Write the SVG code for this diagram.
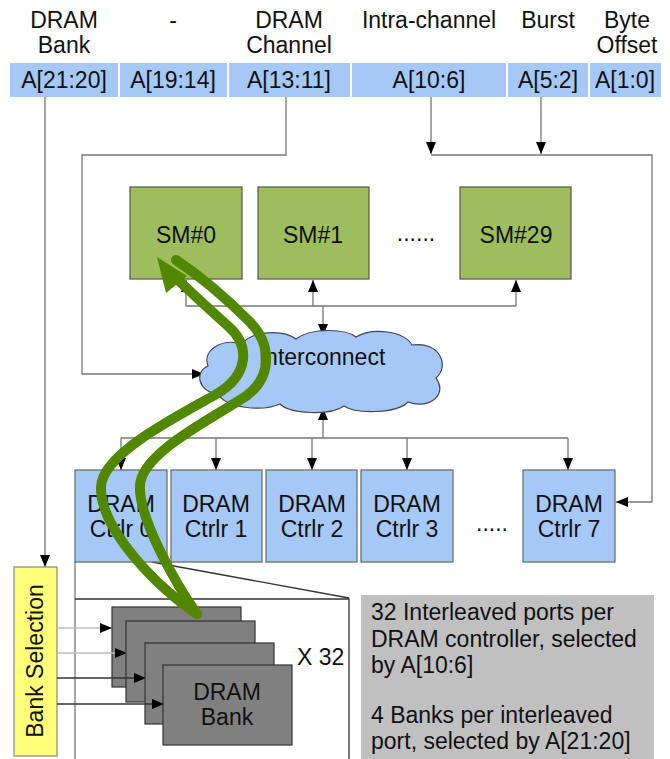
<svg xmlns="http://www.w3.org/2000/svg" width="670" height="759" viewBox="0 0 670 759">
  <style>
    text { font-family: "Liberation Sans", Arial, sans-serif; font-size: 23px; fill: #111; }
    .c { text-anchor: middle; }
    .cell { fill: #a6c8f6; }
    .wire { fill: none; stroke: #777; stroke-width: 1.3; }
    .dark { fill: none; stroke: #333; stroke-width: 1.3; }
    .sm { fill: #9dbd5f; stroke: #555; stroke-width: 1.2; }
    .ctrl { fill: #a6c8f6; stroke: #666; stroke-width: 1.2; }
    .bank { fill: #808080; stroke: #333; stroke-width: 1.2; }
    .green { fill: none; stroke: #528800; stroke-width: 10; stroke-linecap: round; stroke-linejoin: round; }
  </style>
  <defs>
    <marker id="arr" viewBox="0 0 12 10" refX="12" refY="5" markerWidth="12" markerHeight="10" markerUnits="userSpaceOnUse" orient="auto">
      <path d="M0,0 L12,5 L0,10 Z" fill="#000"/>
    </marker>
  </defs>

  <rect width="670" height="759" fill="#fff"/>

  <!-- address field labels -->
  <g id="field-labels">
    <text class="c" x="64" y="28">DRAM</text>
    <text class="c" x="64" y="53">Bank</text>
    <text class="c" x="173" y="28">-</text>
    <text class="c" x="289" y="28">DRAM</text>
    <text class="c" x="289" y="53">Channel</text>
    <text class="c" x="429" y="28">Intra-channel</text>
    <text class="c" x="548" y="28">Burst</text>
    <text class="c" x="627" y="28">Byte</text>
    <text class="c" x="627" y="53">Offset</text>
  </g>

  <!-- address bit fields -->
  <g id="address-bar">
    <rect class="cell" x="10" y="63" width="108" height="34"/>
    <rect class="cell" x="120" y="63" width="107" height="34"/>
    <rect class="cell" x="229" y="63" width="121" height="34"/>
    <rect class="cell" x="352" y="63" width="154" height="34"/>
    <rect class="cell" x="508" y="63" width="80" height="34"/>
    <rect class="cell" x="590" y="63" width="71" height="34"/>
    <text class="c" x="64" y="88">A[21:20]</text>
    <text class="c" x="173" y="88">A[19:14]</text>
    <text class="c" x="289" y="88">A[13:11]</text>
    <text class="c" x="429" y="88">A[10:6]</text>
    <text class="c" x="548" y="88">A[5:2]</text>
    <text class="c" x="625" y="88">A[1:0]</text>
  </g>

  <!-- connectors -->
  <g id="connectors">
    <path class="wire" d="M45,97 V567" marker-end="url(#arr)"/>
    <path class="wire" d="M286,97 V155 H82 V374 H204" marker-end="url(#arr)"/>
    <path class="wire" d="M431,97 V154" marker-end="url(#arr)"/>
    <path class="wire" d="M541,97 V154" marker-end="url(#arr)"/>
    <path class="wire" d="M431,155 H652 V502 H616" marker-end="url(#arr)"/>
    <!-- SM bus -->
    <path class="wire" d="M186,306 H516"/>
    <path class="wire" d="M186,306 V280" marker-end="url(#arr)"/>
    <path class="wire" d="M313,306 V280" marker-end="url(#arr)"/>
    <path class="wire" d="M516,306 V280" marker-end="url(#arr)"/>
    <path class="wire" d="M323,306 V336" marker-end="url(#arr)"/>
    <!-- controller bus -->
    <path class="wire" d="M323,438 V408" marker-end="url(#arr)"/>
    <path class="wire" d="M121,438 H568"/>
    <path class="wire" d="M121,438 V470" marker-end="url(#arr)"/>
    <path class="wire" d="M216,438 V470" marker-end="url(#arr)"/>
    <path class="wire" d="M312,438 V470" marker-end="url(#arr)"/>
    <path class="wire" d="M407,438 V470" marker-end="url(#arr)"/>
    <path class="wire" d="M568,438 V470" marker-end="url(#arr)"/>
    <!-- zoomed panel outline -->
    <path class="wire" d="M75,562 V759"/>
    <path class="dark" d="M75,599 H349 V759"/>
    <path class="dark" d="M152,562 L349,598"/>
  </g>

  <!-- streaming multiprocessors -->
  <g id="sm0">
    <rect class="sm" x="130" y="187" width="112" height="92"/>
    <text class="c" x="186" y="243">SM#0</text>
  </g>
  <g id="sm1">
    <rect class="sm" x="258" y="187" width="111" height="92"/>
    <text class="c" x="313" y="243">SM#1</text>
  </g>
  <text class="c" x="416" y="241">......</text>
  <g id="sm29">
    <rect class="sm" x="460" y="187" width="111" height="92"/>
    <text class="c" x="516" y="243">SM#29</text>
  </g>

  <!-- interconnect cloud -->
  <g id="interconnect">
    <path d="M218,394 C198,392 194,372 208,366 C202,350 222,338 242,344 C252,331 282,329 296,339 C312,327 346,329 356,337 C372,327 404,331 412,345 C440,341 450,366 436,378 C448,394 430,410 408,402 C396,414 356,414 344,406 C330,416 290,414 280,404 C262,412 226,408 218,394 Z" fill="#a6c8f6" stroke="#445" stroke-width="1.2"/>
    <text class="c" x="322" y="365">Interconnect</text>
  </g>

  <!-- DRAM controllers -->
  <g id="ctrl0">
    <rect class="ctrl" x="75" y="470" width="92" height="92"/>
    <text class="c" x="121" y="512">DRAM</text>
    <text class="c" x="121" y="537">Ctrlr 0</text>
  </g>
  <g id="ctrl1">
    <rect class="ctrl" x="171" y="470" width="91" height="92"/>
    <text class="c" x="216" y="512">DRAM</text>
    <text class="c" x="216" y="537">Ctrlr 1</text>
  </g>
  <g id="ctrl2">
    <rect class="ctrl" x="266" y="470" width="91" height="92"/>
    <text class="c" x="312" y="512">DRAM</text>
    <text class="c" x="312" y="537">Ctrlr 2</text>
  </g>
  <g id="ctrl3">
    <rect class="ctrl" x="361" y="470" width="92" height="92"/>
    <text class="c" x="407" y="512">DRAM</text>
    <text class="c" x="407" y="537">Ctrlr 3</text>
  </g>
  <text class="c" x="492" y="531">.....</text>
  <g id="ctrl7">
    <rect class="ctrl" x="523" y="470" width="92" height="92"/>
    <text class="c" x="569" y="512">DRAM</text>
    <text class="c" x="569" y="537">Ctrlr 7</text>
  </g>

  <!-- bank selection -->
  <g id="bank-selection">
    <rect x="14" y="567" width="43" height="189" fill="#ffff7a" stroke="#888" stroke-width="1.2"/>
    <text class="c" transform="translate(43,661) rotate(-90)">Bank Selection</text>
  </g>

  <!-- stacked DRAM banks -->
  <g id="banks">
    <path d="M57,628 H112" fill="none" stroke="#bbb" stroke-width="1.3" marker-end="url(#arr)"/>
    <rect class="bank" x="112" y="607" width="129" height="80"/>
    <path d="M57,653 H127" fill="none" stroke="#bbb" stroke-width="1.3" marker-end="url(#arr)"/>
    <rect class="bank" x="126" y="621" width="129" height="81"/>
    <path d="M57,678 H146" class="dark" marker-end="url(#arr)"/>
    <rect class="bank" x="145" y="643" width="129" height="81"/>
    <path d="M57,704 H164" class="dark" marker-end="url(#arr)"/>
    <rect class="bank" x="163" y="665" width="129" height="80"/>
    <text class="c" x="227" y="700">DRAM</text>
    <text class="c" x="227" y="725">Bank</text>
    <text x="297" y="665">X 32</text>
  </g>

  <!-- note -->
  <g id="note">
    <rect x="361" y="595" width="293" height="164" fill="#c0c0c0"/>
    <text x="371" y="620">32 Interleaved ports per</text>
    <text x="371" y="647">DRAM controller, selected</text>
    <text x="371" y="673">by A[10:6]</text>
    <text x="371" y="723">4 Banks per interleaved</text>
    <text x="371" y="749">port, selected by A[21:20]</text>
  </g>

  <!-- request path overlay -->
  <g id="path-arrow">
    <path class="green" d="M197,614 C160,590 100,530 101,487 C102,455 170,420 215,395 C250,375 250,345 228,326 C208,308 188,290 170,272"/>
    <path class="green" d="M197,614 C180,590 138,520 140,485 C142,455 200,425 240,400 C274,380 272,345 250,322 C230,302 206,280 176,260"/>
    <polygon points="157,257 187,276 166,293" fill="#528800"/>
  </g>
</svg>
